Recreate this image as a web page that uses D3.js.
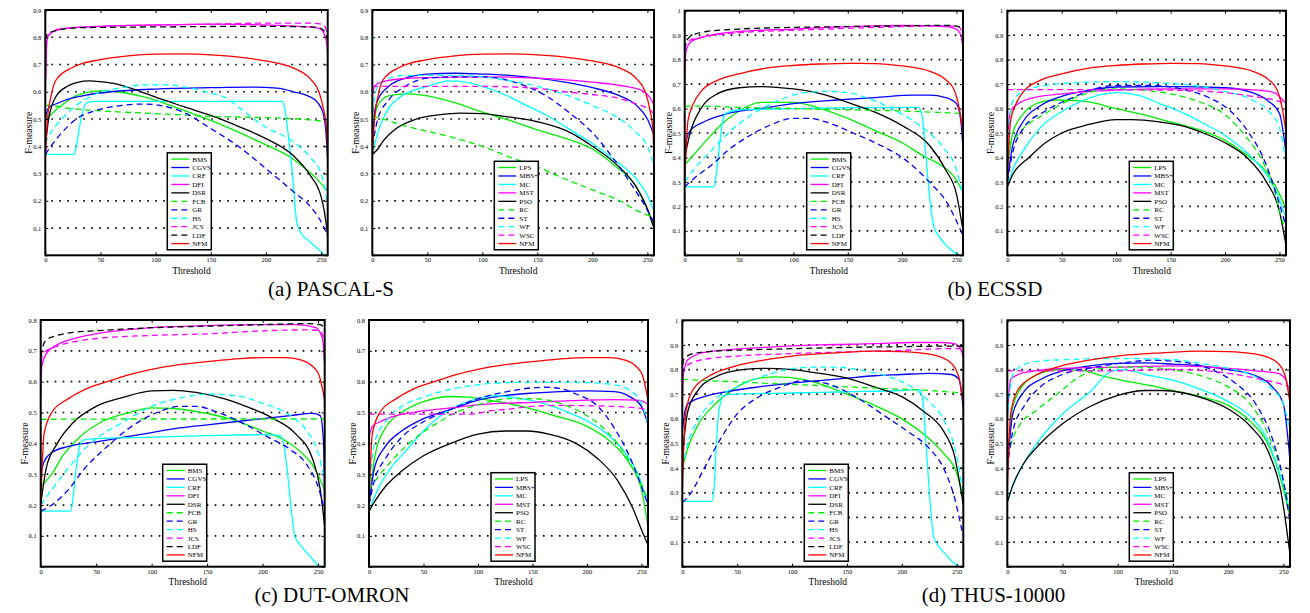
<!DOCTYPE html>
<html>
<head>
<meta charset="utf-8">
<script src="https://cdn.jsdelivr.net/npm/d3@7"></script>
<style>
  body { margin: 0; background: #fff; }
  svg { display: block; }
</style>
</head>
<body>
<svg id="chart" width="1310" height="613"></svg>
<script>
// threshold ticks and legend sets
var xTicks = [0, 50, 100, 150, 200, 250];
var setA = ["BMS", "CGVS", "CRF", "DFI", "DSR", "FCB", "GR", "HS", "JCS", "LDF", "NFM"];
var setB = ["LPS", "MBS+", "MC", "MST", "PSO", "RC", "ST", "WF", "WSC", "NFM"];
var captions = ["(a) PASCAL-S", "(b) ECSSD", "(c) DUT-OMRON", "(d) THUS-10000"];

// F-measure curves, [threshold, F]
var pascalNFM = [[0,.35],[2,.50],[5,.58],[10,.645],[25,.69],[50,.718],[75,.732],[100,.738],[125,.739],[150,.735],[175,.727],[200,.713],[225,.687],[240,.648],[248,.60],[252,.54],[255,.46],[256,.35]];
var ecssdNFM = [[0,.30],[3,.55],[8,.62],[15,.67],[30,.715],[50,.742],[75,.765],[100,.776],[125,.782],[150,.785],[175,.784],[200,.774],[225,.753],[240,.718],[248,.675],[253,.59],[256,.50]];
var dutNFM = [[0,.20],[3,.43],[10,.50],[25,.545],[40,.575],[60,.60],[80,.623],[100,.64],[125,.655],[150,.665],[180,.675],[200,.678],[220,.678],[235,.67],[245,.65],[251,.62],[256,.54]];
var thusNFM = [[0,.30],[3,.62],[10,.72],[25,.775],[45,.81],[70,.835],[100,.855],[140,.868],[175,.875],[200,.873],[220,.866],[238,.846],[248,.81],[253,.75],[256,.66]];

var pascalA = {
  "BMS": [[0,.50],[5,.515],[10,.535],[18,.56],[25,.58],[35,.595],[50,.603],[65,.60],[80,.59],[95,.575],[110,.555],[130,.525],[150,.495],[175,.452],[200,.405],[220,.365],[235,.32],[245,.285],[256,.235]],
  "CGVS": [[0,.50],[2,.535],[5,.548],[10,.556],[20,.572],[40,.59],[60,.60],[100,.61],[150,.615],[185,.617],[210,.613],[225,.60],[238,.585],[247,.56],[252,.52],[254,.47],[256,.35]],
  "CRF": [[0,.37],[26,.37],[28,.40],[31,.47],[34,.53],[38,.56],[45,.565],[215,.565],[217,.54],[220,.45],[224,.30],[228,.12],[232,.08],[240,.05],[248,.02],[253,.003],[256,0]],
  "DFI": [[0,.60],[1,.75],[2,.80],[5,.815],[10,.825],[25,.835],[50,.84],[100,.845],[150,.848],[200,.845],[230,.84],[245,.835],[250,.83],[253,.81],[255,.78],[256,.74]],
  "DSR": [[0,.40],[3,.50],[6,.55],[10,.585],[20,.62],[30,.635],[40,.64],[50,.637],[65,.628],[80,.61],[100,.58],[125,.546],[150,.513],[175,.473],[200,.428],[225,.365],[240,.294],[250,.215],[253,.16],[256,.07]],
  "FCB": [[0,.55],[3,.55],[20,.54],[50,.53],[100,.52],[150,.51],[200,.505],[230,.50],[256,.49]],
  "GR": [[0,.37],[5,.40],[15,.45],[28,.50],[45,.53],[70,.55],[90,.555],[110,.545],[125,.525],[150,.465],[175,.40],[200,.318],[225,.233],[240,.18],[250,.123],[256,.07]],
  "HS": [[0,.41],[5,.45],[15,.50],[28,.55],[45,.59],[70,.615],[90,.625],[110,.625],[130,.615],[150,.595],[165,.575],[175,.544],[200,.47],[225,.416],[240,.36],[250,.30],[253,.25],[256,.18]],
  "JCS": [[0,.62],[1,.78],[2,.80],[5,.815],[10,.828],[25,.835],[50,.84],[100,.845],[150,.848],[200,.852],[240,.852],[250,.848],[254,.835],[256,.80]],
  "LDF": [[0,.79],[1,.805],[3,.815],[10,.825],[30,.835],[100,.838],[200,.84],[240,.838],[250,.832],[254,.815],[256,.79]],
  "NFM": pascalNFM
};

var pascalB = {
  "LPS": [[0,.40],[2,.50],[5,.55],[10,.575],[15,.585],[30,.592],[50,.585],[75,.56],[100,.525],[125,.495],[150,.46],[175,.43],[200,.39],[220,.33],[240,.25],[250,.17],[256,.10]],
  "MBS+": [[0,.40],[2,.52],[5,.57],[15,.62],[30,.65],[50,.665],[75,.668],[100,.665],[125,.66],[150,.65],[175,.635],[200,.615],[225,.585],[240,.55],[250,.50],[256,.44]],
  "MC": [[0,.37],[5,.45],[15,.54],[25,.58],[50,.62],[70,.64],[85,.635],[100,.62],[120,.59],[140,.55],[160,.51],[180,.46],[200,.41],[220,.35],[240,.28],[250,.22],[256,.16]],
  "MST": [[0,.58],[2,.62],[5,.63],[20,.645],[50,.652],[100,.655],[150,.65],[200,.635],[230,.62],[245,.605],[252,.58],[256,.55]],
  "PSO": [[0,.37],[5,.39],[10,.42],[20,.46],[40,.50],[60,.515],[80,.522],[100,.52],[120,.51],[150,.49],[180,.45],[200,.40],[220,.34],[240,.25],[250,.17],[256,.10]],
  "RC": [[0,.51],[10,.50],[25,.48],[50,.455],[75,.43],[100,.40],[125,.36],[150,.324],[175,.28],[200,.24],[225,.20],[240,.165],[256,.14]],
  "ST": [[0,.40],[5,.50],[15,.57],[30,.62],[50,.65],[75,.655],[100,.655],[120,.645],[140,.62],[160,.58],[180,.52],[200,.45],[220,.35],[237,.25],[248,.18],[256,.12]],
  "WF": [[0,.45],[2,.58],[5,.62],[15,.65],[30,.66],[75,.66],[100,.655],[125,.64],[150,.62],[175,.59],[200,.55],[225,.50],[240,.45],[250,.40],[256,.33]],
  "WSC": [[0,.62],[100,.62],[150,.612],[175,.60],[200,.59],[225,.575],[240,.555],[250,.54],[256,.52]],
  "NFM": pascalNFM
};

var ecssdA = {
  "BMS": [[0,.37],[8,.41],[20,.47],[35,.54],[50,.59],[70,.625],[100,.625],[125,.60],[150,.56],[175,.51],[200,.46],[220,.405],[235,.37],[248,.32],[256,.26]],
  "CGVS": [[0,.43],[2,.48],[5,.51],[20,.55],[40,.58],[70,.60],[100,.62],[140,.635],[175,.645],[210,.655],[225,.655],[240,.645],[250,.62],[254,.55],[256,.43]],
  "CRF": [[0,.28],[27,.28],[29,.33],[32,.45],[35,.55],[38,.58],[50,.595],[100,.60],[215,.605],[218,.58],[221,.45],[225,.25],[229,.12],[235,.07],[243,.03],[252,.003],[256,0]],
  "DFI": [[0,.70],[1,.83],[5,.87],[15,.89],[30,.905],[50,.915],[100,.925],[150,.935],[200,.94],[240,.935],[250,.925],[254,.90],[256,.85]],
  "DSR": [[0,.40],[5,.50],[15,.60],[30,.66],[50,.685],[70,.69],[100,.68],[130,.655],[150,.625],[175,.585],[200,.53],[225,.45],[240,.35],[250,.25],[256,.10]],
  "FCB": [[0,.61],[10,.61],[50,.605],[100,.60],[150,.595],[200,.59],[230,.585],[256,.58]],
  "GR": [[0,.28],[10,.32],[25,.37],[40,.43],[60,.49],[80,.535],[100,.56],[115,.56],[130,.545],[155,.50],[180,.45],[200,.40],[225,.30],[242,.21],[252,.12],[256,.08]],
  "HS": [[0,.30],[10,.36],[25,.43],[40,.50],[60,.57],[85,.63],[110,.665],[130,.67],[150,.665],[170,.64],[190,.60],[210,.55],[225,.50],[238,.44],[250,.35],[256,.24]],
  "JCS": [[0,.80],[1,.86],[5,.88],[20,.895],[50,.91],[100,.92],[150,.928],[200,.935],[240,.938],[252,.935],[256,.90]],
  "LDF": [[0,.84],[1,.87],[5,.895],[10,.905],[20,.915],[50,.925],[100,.932],[150,.935],[200,.938],[240,.94],[252,.935],[256,.92]],
  "NFM": ecssdNFM
};

var ecssdB = {
  "LPS": [[0,.35],[5,.50],[15,.58],[30,.625],[45,.635],[70,.63],[100,.60],[125,.575],[150,.545],[175,.515],[200,.47],[220,.41],[240,.33],[250,.25],[256,.19]],
  "MBS+": [[0,.30],[5,.45],[15,.55],[30,.61],[50,.65],[75,.675],[100,.688],[150,.69],[200,.685],[225,.665],[240,.63],[250,.58],[256,.42]],
  "MC": [[0,.28],[5,.35],[15,.43],[30,.52],[55,.60],[80,.65],[100,.665],[120,.655],[140,.62],[160,.585],[180,.54],[200,.49],[220,.42],[238,.33],[248,.25],[256,.15]],
  "MST": [[0,.45],[3,.59],[10,.62],[25,.645],[50,.66],[100,.675],[150,.68],[200,.68],[230,.675],[245,.665],[252,.64],[256,.62]],
  "PSO": [[0,.28],[5,.33],[20,.40],[35,.46],[50,.50],[75,.535],[100,.555],[115,.555],[140,.545],[160,.53],[180,.50],[200,.46],[220,.40],[238,.30],[250,.18],[256,.04]],
  "RC": [[0,.45],[5,.47],[15,.52],[35,.58],[55,.63],[75,.665],[100,.68],[125,.675],[150,.66],[175,.63],[200,.575],[220,.48],[235,.38],[245,.27],[252,.15],[256,.10]],
  "ST": [[0,.30],[5,.42],[15,.52],[35,.59],[60,.645],[80,.68],[100,.695],[130,.695],[160,.68],[185,.645],[205,.59],[222,.50],[235,.40],[245,.28],[252,.18],[256,.12]],
  "WF": [[0,.45],[5,.63],[15,.67],[35,.695],[60,.705],[100,.71],[140,.705],[170,.695],[200,.67],[225,.635],[240,.59],[250,.52],[256,.38]],
  "WSC": [[0,.677],[100,.677],[150,.675],[200,.665],[225,.65],[245,.635],[256,.62]],
  "NFM": ecssdNFM
};

var dutA = {
  "BMS": [[0,.26],[10,.30],[20,.36],[35,.42],[55,.47],[80,.50],[100,.515],[120,.513],[145,.50],[170,.48],[200,.44],[220,.41],[235,.37],[245,.33],[256,.25]],
  "CGVS": [[0,.30],[3,.34],[10,.37],[25,.39],[50,.405],[75,.42],[100,.435],[125,.45],[150,.46],[175,.47],[200,.48],[225,.49],[245,.497],[252,.49],[255,.40],[256,.16]],
  "CRF": [[0,.18],[27,.18],[29,.22],[32,.32],[35,.39],[38,.41],[50,.415],[100,.42],[150,.425],[200,.428],[216,.425],[219,.40],[222,.32],[226,.18],[229,.10],[234,.07],[240,.045],[246,.02],[251,.002],[256,0]],
  "DFI": [[0,.55],[1,.65],[5,.69],[15,.72],[30,.74],[50,.755],[100,.775],[150,.782],[200,.785],[230,.785],[248,.775],[254,.74],[256,.65]],
  "DSR": [[0,.20],[5,.32],[15,.40],[30,.47],[50,.52],[75,.55],[100,.57],[120,.572],[140,.565],[165,.545],[185,.52],[210,.48],[230,.43],[245,.35],[252,.25],[256,.13]],
  "FCB": [[0,.478],[100,.479],[256,.479]],
  "GR": [[0,.18],[10,.20],[25,.25],[40,.32],[60,.39],[80,.45],[105,.50],[125,.52],[140,.52],[160,.50],[185,.46],[205,.42],[225,.38],[240,.33],[250,.26],[256,.18]],
  "HS": [[0,.20],[10,.25],[25,.32],[45,.40],[75,.47],[100,.52],[130,.55],[150,.56],[175,.555],[200,.53],[225,.49],[240,.44],[250,.37],[256,.28]],
  "JCS": [[0,.60],[1,.68],[5,.70],[15,.715],[30,.73],[50,.74],[100,.75],[150,.755],[200,.765],[240,.768],[252,.765],[256,.73]],
  "LDF": [[0,.65],[1,.70],[5,.735],[15,.75],[30,.76],[50,.765],[100,.775],[150,.78],[200,.785],[240,.788],[252,.785],[256,.77]],
  "NFM": dutNFM
};

var dutB = {
  "LPS": [[0,.20],[5,.35],[15,.45],[30,.50],[50,.535],[75,.552],[90,.55],[110,.54],[140,.52],[170,.49],[200,.455],[220,.41],[238,.34],[250,.25],[256,.13]],
  "MBS+": [[0,.20],[5,.32],[15,.39],[30,.44],[50,.48],[75,.51],[100,.54],[125,.555],[150,.563],[175,.568],[200,.57],[225,.568],[240,.55],[250,.52],[256,.46]],
  "MC": [[0,.18],[8,.25],[20,.32],[35,.38],[50,.44],[70,.50],[95,.54],[115,.555],[130,.55],[160,.53],[190,.49],[215,.44],[235,.37],[248,.29],[256,.20]],
  "MST": [[0,.42],[3,.455],[10,.47],[25,.49],[50,.505],[75,.515],[100,.525],[125,.53],[150,.533],[175,.537],[200,.54],[225,.542],[245,.54],[252,.535],[256,.525]],
  "PSO": [[0,.18],[5,.21],[15,.26],[30,.31],[50,.36],[75,.40],[100,.43],[125,.44],[145,.44],[165,.43],[190,.40],[210,.35],[228,.28],[242,.19],[250,.12],[256,.07]],
  "RC": [[0,.25],[8,.29],[20,.34],[40,.41],[60,.46],[80,.50],[105,.53],[130,.545],[150,.545],[170,.535],[195,.50],[215,.45],[232,.38],[245,.30],[256,.22]],
  "ST": [[0,.20],[5,.28],[15,.35],[30,.42],[50,.47],[75,.51],[100,.545],[130,.57],[160,.582],[175,.578],[190,.56],[210,.52],[225,.45],[240,.35],[250,.26],[256,.20]],
  "WF": [[0,.25],[5,.40],[15,.47],[30,.52],[50,.55],[75,.575],[100,.59],[125,.597],[150,.598],[200,.597],[225,.59],[240,.57],[250,.53],[256,.46]],
  "WSC": [[0,.495],[60,.495],[95,.495],[110,.505],[125,.51],[150,.52],[175,.523],[200,.522],[225,.52],[245,.515],[256,.51]],
  "NFM": dutNFM
};

var thusA = {
  "BMS": [[0,.40],[5,.48],[15,.58],[30,.66],[50,.73],[70,.765],[85,.77],[110,.76],[130,.735],[150,.70],[175,.655],[200,.60],[222,.53],[238,.46],[250,.38],[256,.28]],
  "CGVS": [[0,.55],[2,.62],[5,.66],[20,.69],[40,.71],[70,.73],[100,.745],[125,.755],[150,.765],[175,.775],[200,.78],[225,.785],[245,.78],[252,.76],[256,.64]],
  "CRF": [[0,.265],[27,.265],[29,.32],[31,.50],[34,.65],[38,.695],[50,.70],[100,.705],[150,.71],[200,.715],[216,.72],[219,.68],[222,.50],[226,.25],[229,.12],[234,.08],[240,.05],[246,.02],[252,.002],[256,0]],
  "DFI": [[0,.65],[1,.78],[5,.84],[20,.87],[40,.88],[75,.89],[125,.90],[175,.905],[210,.91],[235,.91],[248,.905],[254,.88],[256,.85]],
  "DSR": [[0,.45],[5,.63],[15,.72],[30,.77],[55,.80],[75,.805],[100,.80],[125,.785],[150,.765],[175,.73],[200,.69],[220,.63],[238,.55],[248,.45],[256,.25]],
  "FCB": [[0,.76],[25,.755],[75,.745],[125,.735],[175,.725],[225,.715],[256,.705]],
  "GR": [[0,.26],[8,.30],[20,.40],[35,.52],[50,.62],[70,.69],[90,.73],[110,.755],[125,.75],[145,.72],[165,.67],[185,.61],[205,.55],[225,.48],[238,.40],[248,.28],[256,.12]],
  "HS": [[0,.40],[5,.50],[15,.60],[30,.68],[50,.73],[75,.775],[95,.80],[120,.81],[140,.81],[160,.80],[185,.775],[205,.74],[225,.67],[240,.58],[250,.45],[256,.29]],
  "JCS": [[0,.70],[1,.80],[10,.83],[25,.845],[50,.855],[100,.865],[150,.872],[200,.878],[240,.885],[252,.885],[256,.88]],
  "LDF": [[0,.78],[1,.84],[10,.865],[30,.875],[60,.88],[100,.885],[150,.89],[200,.893],[240,.895],[252,.895],[256,.89]],
  "NFM": thusNFM
};

var thusB = {
  "LPS": [[0,.40],[5,.65],[15,.74],[30,.785],[45,.80],[70,.795],[85,.775],[105,.755],[130,.735],[150,.715],[175,.69],[200,.655],[220,.59],[238,.48],[248,.35],[256,.20]],
  "MBS+": [[0,.40],[5,.62],[15,.71],[30,.76],[50,.795],[75,.815],[100,.825],[125,.827],[150,.822],[175,.815],[200,.80],[225,.775],[240,.73],[250,.66],[256,.43]],
  "MC": [[0,.27],[5,.33],[15,.42],[30,.52],[50,.62],[75,.71],[95,.795],[105,.80],[125,.78],[150,.757],[175,.72],[200,.67],[220,.61],[235,.52],[245,.40],[252,.30],[256,.22]],
  "MST": [[0,.60],[3,.76],[10,.78],[25,.795],[50,.805],[100,.81],[150,.815],[175,.812],[200,.805],[225,.795],[245,.785],[252,.76],[256,.68]],
  "PSO": [[0,.26],[5,.33],[15,.42],[30,.50],[50,.58],[75,.65],[100,.695],[125,.715],[140,.715],[160,.705],[180,.68],[200,.64],[220,.57],[237,.46],[248,.30],[256,.05]],
  "RC": [[0,.45],[5,.52],[12,.58],[25,.63],[45,.70],[65,.77],[80,.80],[100,.81],[120,.81],[150,.80],[175,.775],[200,.73],[220,.66],[235,.55],[247,.40],[256,.22]],
  "ST": [[0,.40],[5,.55],[15,.65],[30,.73],[50,.78],[80,.81],[110,.83],[130,.838],[160,.83],[185,.80],[205,.75],[225,.66],[240,.52],[250,.35],[256,.18]],
  "WF": [[0,.60],[5,.78],[15,.82],[30,.835],[50,.84],[100,.845],[150,.84],[175,.825],[200,.805],[225,.77],[240,.72],[250,.66],[256,.55]],
  "WSC": [[0,.795],[100,.795],[150,.80],[175,.797],[200,.785],[225,.765],[245,.745],[256,.73]],
  "NFM": thusNFM
};

// matlab-ish line styles per method
var STYLE = {
  "BMS": ["#00ee00", false], "CGVS": ["#0000ff", false], "CRF": ["#00ffff", false],
  "DFI": ["#ff00ff", false], "DSR": ["#000000", false], "FCB": ["#00ee00", true],
  "GR": ["#0000ff", true], "HS": ["#00ffff", true], "JCS": ["#ff00ff", true],
  "LDF": ["#000000", true], "NFM": ["#ff0000", false],
  "LPS": ["#00ee00", false], "MBS+": ["#0000ff", false], "MC": ["#00ffff", false],
  "MST": ["#ff00ff", false], "PSO": ["#000000", false], "RC": ["#00ee00", true],
  "ST": ["#0000ff", true], "WF": ["#00ffff", true], "WSC": ["#ff00ff", true]
};

var SERIF = '"Liberation Serif", "Times New Roman", serif';
var svg = d3.select("#chart");

// frames [left, top, right, bottom]
var panels = [
  { data: pascalA, keys: setA, ymax: 0.9, box: [45.3, 10, 327.7, 255.3] },
  { data: pascalB, keys: setB, ymax: 0.9, box: [372.3, 10, 654, 255.3] },
  { data: ecssdA, keys: setA, ymax: 1, box: [684.7, 10.7, 963, 255.3] },
  { data: ecssdB, keys: setB, ymax: 1, box: [1007.3, 10.7, 1286, 255.3] },
  { data: dutA, keys: setA, ymax: 0.8, box: [40.7, 320, 324.7, 566.7] },
  { data: dutB, keys: setB, ymax: 0.8, box: [369, 320, 648, 566.7] },
  { data: thusA, keys: setA, ymax: 1, box: [682.3, 320.3, 963.3, 566.7] },
  { data: thusB, keys: setB, ymax: 1, box: [1007.3, 320.3, 1290, 566.7] }
];

panels.forEach(function(p, i) {
  var L = p.box[0], T = p.box[1], R = p.box[2], B = p.box[3];
  var x = d3.scaleLinear().domain([0, 256]).range([L, R]);
  var y = d3.scaleLinear().domain([0, p.ymax]).range([B, T]);
  var yTicks = d3.range(0, Math.round(p.ymax * 10) + 1).map(function(k) { return k / 10; });
  var g = svg.append("g");

  svg.append("clipPath").attr("id", "clip" + i)
    .append("rect").attr("x", L).attr("y", T).attr("width", R - L).attr("height", B - T);

  // dotted horizontal grid
  g.selectAll(".grid")
    .data(yTicks.filter(function(t) { return t > 0 && t < p.ymax - 1e-6; }))
    .join("line")
    .attr("x1", L).attr("x2", R)
    .attr("y1", function(d) { return y(d); }).attr("y2", function(d) { return y(d); })
    .attr("stroke", "#000").attr("stroke-width", 1.7)
    .attr("stroke-dasharray", "1.6,6.4").attr("stroke-dashoffset", -6);

  var line = d3.line()
    .x(function(d) { return x(d[0]); })
    .y(function(d) { return y(d[1]); })
    .curve(d3.curveMonotoneX);

  p.keys.forEach(function(k) {
    g.append("path").datum(p.data[k])
      .attr("d", line)
      .attr("fill", "none")
      .attr("stroke", STYLE[k][0])
      .attr("stroke-width", 1.3)
      .attr("stroke-dasharray", STYLE[k][1] ? "6,4" : null)
      .attr("clip-path", "url(#clip" + i + ")");
  });

  function styleAxis(ax) {
    ax.attr("font-family", SERIF).attr("font-size", 6.5);
    ax.select(".domain").remove();
  }

  g.append("g").attr("transform", "translate(0," + B + ")")
    .call(d3.axisBottom(x).tickValues(xTicks).tickSize(-3).tickPadding(2.5))
    .call(styleAxis);
  g.append("g").attr("transform", "translate(0," + T + ")")
    .call(d3.axisTop(x).tickValues(xTicks).tickSize(-3).tickFormat(""))
    .call(styleAxis);
  g.append("g").attr("transform", "translate(" + L + ",0)")
    .call(d3.axisLeft(y).tickValues(yTicks).tickSize(-3).tickPadding(4)
      .tickFormat(function(d) { return d === 0 ? "" : d3.format("~g")(d); }))
    .call(styleAxis);
  g.append("g").attr("transform", "translate(" + R + ",0)")
    .call(d3.axisRight(y).tickValues(yTicks).tickSize(-3).tickFormat(""))
    .call(styleAxis);

  g.append("rect")
    .attr("x", L).attr("y", T).attr("width", R - L).attr("height", B - T)
    .attr("fill", "none").attr("stroke", "#000").attr("stroke-width", 2);

  g.append("text")
    .attr("x", (L + R) / 2 + 5).attr("y", B + 18.5)
    .attr("text-anchor", "middle")
    .attr("font-family", SERIF).attr("font-size", 9.5)
    .text("Threshold");
  g.append("text")
    .attr("transform", "translate(" + (L - 13) + "," + ((T + B) / 2) + ") rotate(-90)")
    .attr("text-anchor", "middle")
    .attr("font-family", SERIF).attr("font-size", 10)
    .text("F-measure");

  // legend
  var rowH = 8.45, n = p.keys.length;
  var lw = 44, lh = n * rowH + 4;
  var lx = L + 122, ly = B - 5.5 - lh;
  var leg = g.append("g");
  leg.append("rect")
    .attr("x", lx).attr("y", ly).attr("width", lw).attr("height", lh)
    .attr("fill", "#fff").attr("stroke", "#000").attr("stroke-width", 1.5);
  p.keys.forEach(function(k, j) {
    var cy = ly + 2 + rowH * (j + 0.5);
    leg.append("line")
      .attr("x1", lx + 4).attr("x2", lx + 22).attr("y1", cy).attr("y2", cy)
      .attr("stroke", STYLE[k][0]).attr("stroke-width", 1.3)
      .attr("stroke-dasharray", STYLE[k][1] ? "6,4" : null);
    leg.append("text")
      .attr("x", lx + 25).attr("y", cy).attr("dy", "0.35em")
      .attr("font-family", SERIF).attr("font-size", 7)
      .text(k);
  });
});

// sub-figure captions
var capPos = [[331, 296], [995, 296], [332, 602], [993.5, 602]];
svg.selectAll(".cap").data(captions).join("text")
  .attr("x", function(d, i) { return capPos[i][0]; })
  .attr("y", function(d, i) { return capPos[i][1]; })
  .attr("text-anchor", "middle")
  .attr("font-family", SERIF).attr("font-size", 21)
  .text(function(d) { return d; });
</script>
</body>
</html>
